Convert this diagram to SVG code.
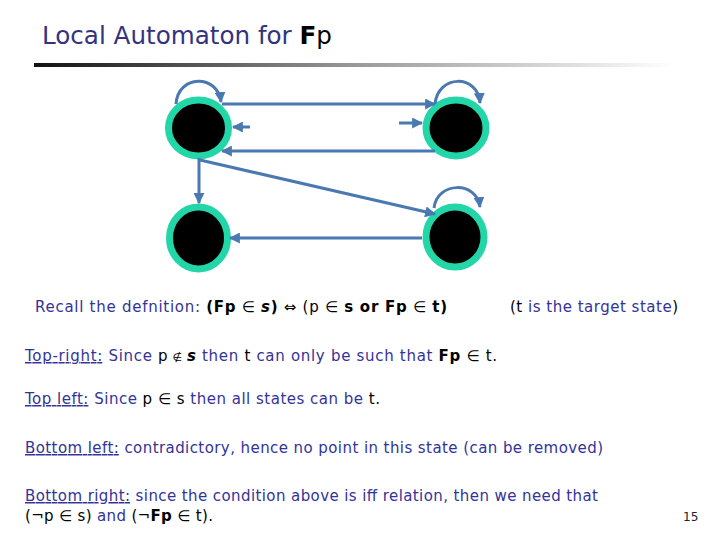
<svg xmlns="http://www.w3.org/2000/svg" width="720" height="540" viewBox="0 0 720 540">
<defs>
<linearGradient id="rule" x1="0" y1="0" x2="1" y2="0">
<stop offset="0" stop-color="#111"/>
<stop offset="0.5" stop-color="#999"/>
<stop offset="1" stop-color="#fff"/>
</linearGradient>
<marker id="ah" viewBox="0 0 10 10" refX="9" refY="5" markerWidth="11" markerHeight="11" markerUnits="userSpaceOnUse" orient="auto">
<path d="M0,0 L10,5 L0,10 z" fill="#4A78B0"/>
</marker>
<style>
.t{font-family:"DejaVu Sans","Liberation Sans",sans-serif;font-size:15px;fill:#333399}
.k{fill:#000}
.b{font-weight:bold}
.u{text-decoration:underline}
.ring{fill:#000;stroke:#22D6A8;stroke-width:7}
.e{fill:none;stroke:#4A78B0;stroke-width:3;marker-end:url(#ah)}
</style>
</defs>
<rect width="720" height="540" fill="#fff"/>
<text x="42" y="44" font-family="DejaVu Sans, sans-serif" font-size="24" fill="#333380" textLength="290" lengthAdjust="spacingAndGlyphs">Local Automaton for <tspan fill="#000" font-weight="bold">F</tspan><tspan fill="#000">p</tspan></text>
<rect x="34" y="63" width="640" height="4" fill="url(#rule)"/>
<g id="node-tl"><ellipse class="ring" cx="198.5" cy="128" rx="30" ry="28"/></g>
<g id="node-tr"><ellipse class="ring" cx="456" cy="128" rx="30" ry="28"/></g>
<g id="node-bl"><ellipse class="ring" cx="198.5" cy="238" rx="29" ry="31"/></g>
<g id="node-br"><ellipse class="ring" cx="455" cy="237" rx="29" ry="30"/></g>
<g id="connectors">
<path class="e" d="M176,104 C178,74 218,74 221,102"/>
<path class="e" d="M435,104 C438,74 478,74 480,103"/>
<path class="e" d="M434,208 C437,181 477,181 480,207"/>
<path class="e" d="M222,104 L435,104"/>
<path class="e" d="M250,127 L233,127"/>
<path class="e" d="M399,123 L422,123"/>
<path class="e" d="M435,151 L222,151"/>
<path class="e" d="M199,158 L199,203"/>
<path class="e" d="M200,160 L435,214"/>
<path class="e" d="M422,238 L230,238"/>
</g>
<text class="t" x="35" y="312" textLength="412" lengthAdjust="spacing">Recall the defnition: <tspan class="k b">(Fp</tspan><tspan class="k"> ∈ </tspan><tspan class="k b" font-style="italic">s</tspan><tspan class="k b">)</tspan><tspan class="k"> ⇔ (p ∈ </tspan><tspan class="k b">s or Fp</tspan><tspan class="k"> ∈ </tspan><tspan class="k b">t)</tspan></text>
<text class="t" x="510" y="312" textLength="168" lengthAdjust="spacing"><tspan class="k">(t</tspan> is the target state<tspan class="k">)</tspan></text>
<text class="t" x="25" y="361" textLength="472" lengthAdjust="spacing"><tspan class="u">Top-right:</tspan> Since <tspan class="k">p</tspan><tspan class="k" font-size="11"> ∉ </tspan><tspan class="k b" font-style="italic">s</tspan> then <tspan class="k">t</tspan> can only be such that <tspan class="k b">Fp</tspan><tspan class="k"> ∈ t.</tspan></text>
<text class="t" x="25" y="404" textLength="355" lengthAdjust="spacing"><tspan class="u">Top left:</tspan> Since <tspan class="k">p ∈ s</tspan> then all states can be <tspan class="k">t.</tspan></text>
<text class="t" x="25" y="453" textLength="578" lengthAdjust="spacing"><tspan class="u">Bottom left:</tspan> contradictory, hence no point in this state (can be removed)</text>
<text class="t" x="25" y="501" textLength="573" lengthAdjust="spacing"><tspan class="u">Bottom right:</tspan> since the condition above is iff relation, then we need that</text>
<text class="t" x="25" y="521" textLength="188" lengthAdjust="spacing"><tspan class="k">(¬p ∈ s)</tspan> and <tspan class="k">(¬</tspan><tspan class="k b">Fp</tspan><tspan class="k"> ∈ t).</tspan></text>
<text x="683" y="521" font-family="DejaVu Sans, sans-serif" font-size="12" fill="#222">15</text>
</svg>
